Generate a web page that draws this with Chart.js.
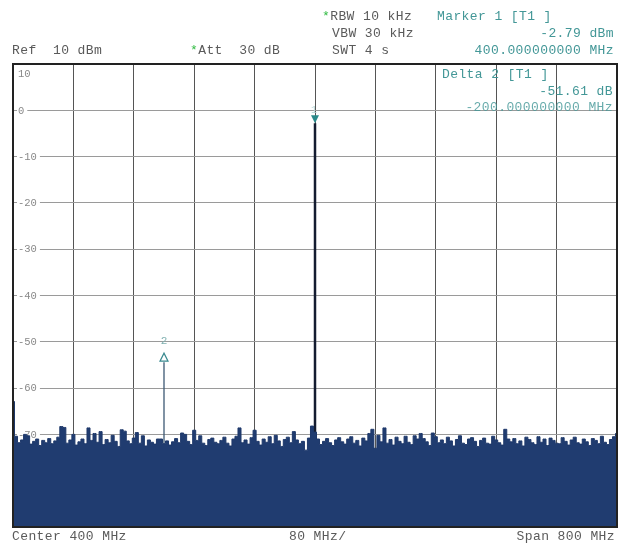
<!DOCTYPE html>
<html>
<head>
<meta charset="utf-8">
<script src="https://cdn.jsdelivr.net/npm/chart.js@4.4.1/dist/chart.umd.min.js"></script>
<style>
body { margin: 0; background: #fff; }
#wrap { position: relative; width: 622px; height: 546px; }
.t { position: absolute; font: 13px "Liberation Mono", monospace; letter-spacing: 0.4px; color: #5a5a5a; white-space: pre; line-height: 14px; }
.m { color: #439797; }
.s { color: #33bb44; }
</style>
</head>
<body>
<div id="wrap">
  <canvas id="myChart" width="622" height="546"></canvas>
  <div class="t" style="left:322px;top:10px"><span class="s">*</span>RBW 10 kHz</div>
  <div class="t m" style="left:437px;top:10px">Marker 1 [T1 ]</div>
  <div class="t" style="left:332px;top:27px">VBW 30 kHz</div>
  <div class="t m" style="right:8px;top:27px">-2.79 dBm</div>
  <div class="t" style="left:12px;top:44px">Ref  10 dBm</div>
  <div class="t" style="left:190px;top:44px"><span class="s">*</span>Att  30 dB</div>
  <div class="t" style="left:332px;top:44px">SWT 4 s</div>
  <div class="t m" style="right:8px;top:44px">400.000000000 MHz</div>
  <div class="t m" style="left:442px;top:68px">Delta 2 [T1 ]</div>
  <div class="t m" style="right:9px;top:85px">-51.61 dB</div>
  <div class="t m" style="right:9px;top:101px;opacity:0.8">-200.000000000 MHz</div>
  <div class="t" style="left:12px;top:530px">Center 400 MHz</div>
  <div class="t" style="left:289px;top:530px">80 MHz/</div>
  <div class="t" style="right:7px;top:530px">Span 800 MHz</div>
</div>
<script>
var startFreq = 0;
var stopFreq = 800;
var stepFreq = 4;
var refLevel = 10;
var bottomLevel = -90;

// trace level (dBm) every 4 MHz
var noiseLevels = [
  -62.9, -70.4, -71.8, -71.2, -70.0, -70.3, -72.1, -71.5, -71.0, -72.4,
  -71.3, -71.8, -70.9, -72.0, -71.4, -70.6, -68.3, -68.5, -71.9, -71.2,
  -70.0, -72.3, -71.6, -71.0, -72.0, -68.6, -71.3, -69.8, -71.7, -69.4,
  -72.2, -71.1, -71.8, -70.2, -71.5, -72.6, -69.0, -69.3, -71.4, -72.0,
  -70.8, -69.6, -71.9, -70.3, -72.5, -71.2, -71.7, -72.1, -71.0, -71.0,
  -72.0, -71.4, -72.3, -71.6, -70.9, -71.8, -69.7, -70.0, -71.5, -72.2,
  -69.1, -71.3, -70.3, -71.9, -72.4, -71.1, -70.8, -71.7, -72.0, -71.3,
  -70.6, -71.9, -72.5, -71.0, -70.4, -68.6, -71.8, -71.2, -72.1, -70.7,
  -69.1, -71.5, -72.3, -71.0, -71.7, -70.5, -72.0, -70.2, -71.4, -72.6,
  -71.1, -70.6, -71.8, -69.4, -71.2, -72.0, -71.5, -73.4, -70.8, -68.2,
  -69.5, -71.0, -72.2, -71.5, -70.9, -71.8, -72.4, -71.2, -70.7, -71.6,
  -72.1, -71.0, -70.5, -71.9, -71.3, -72.5, -70.8, -71.4, -69.8, -68.9,
  -73.0, -70.2, -71.6, -68.6, -71.9, -71.1, -72.3, -70.6, -71.5, -72.0,
  -70.4, -71.7, -72.2, -70.3, -71.0, -69.8, -70.9, -71.6, -72.4, -69.7,
  -70.5, -71.8, -71.2, -72.0, -70.6, -71.4, -72.5, -71.1, -70.3, -71.9,
  -72.2, -71.0, -70.7, -71.5, -72.6, -71.3, -70.8, -71.9, -72.1, -70.4,
  -71.2, -71.8, -72.3, -68.9, -71.0, -71.6, -70.9, -72.0, -71.4, -72.5,
  -70.6, -71.1, -71.8, -72.2, -70.5, -71.7, -71.0, -72.4, -70.8, -71.3,
  -71.9, -72.0, -70.7, -71.5, -72.3, -71.2, -70.6, -71.8, -72.1, -71.0,
  -71.6, -72.4, -70.9, -71.3, -72.0, -70.4, -71.7, -72.2, -71.1, -70.5,
  -69.8
];

var markerFreqs = [400, 200];
var markerLevels = [-2.79, -54.40];
var markerNames = ['1', '2'];

var yTickValues = [10, 0, -10, -20, -30, -40, -50, -60, -70];
var yTickLabels = ['10', '0', '-10', '-20', '-30', '-40', '-50', '-60', '-70'];

function levelAt(freq) {
  return noiseLevels[Math.round((freq - startFreq) / stepFreq)];
}

var trace = noiseLevels.map(function (v, i) {
  return { x: startFreq + i * stepFreq, y: v };
});

var analyzerPlugin = {
  id: 'analyzer',
  beforeDatasetsDraw: function (chart) {
    var ctx = chart.ctx;
    var y = chart.scales.y;
    var left = chart.chartArea.left;
    ctx.save();
    ctx.font = '10.5px "Liberation Mono", monospace';
    ctx.textBaseline = 'middle';
    for (var i = 0; i < yTickValues.length; i++) {
      var py = y.getPixelForValue(yTickValues[i]);
      if (i == 0) py += 10;
      var w = ctx.measureText(yTickLabels[i]).width;
      if (i > 0) {
        ctx.fillStyle = '#fff';
        ctx.fillRect(left + 4, py - 4, w + 4, 8);
      }
      ctx.fillStyle = '#888';
      ctx.fillText(yTickLabels[i], left + 5, py + 0.5);
    }
    ctx.restore();
  },
  afterDatasetsDraw: function (chart) {
    var ctx = chart.ctx;
    var a = chart.chartArea;
    var x = chart.scales.x;
    var y = chart.scales.y;
    ctx.save();
    // frame
    ctx.strokeStyle = '#222';
    ctx.lineWidth = 2;
    ctx.strokeRect(a.left, a.top, a.right - a.left, a.bottom - a.top);

    // marker 1: filled triangle pointing down onto the peak
    var px = x.getPixelForValue(markerFreqs[0]);
    var py = y.getPixelForValue(markerLevels[0]);
    ctx.fillStyle = '#2a8a8a';
    ctx.beginPath();
    ctx.moveTo(px - 4, py - 8);
    ctx.lineTo(px + 4, py - 8);
    ctx.lineTo(px, py);
    ctx.closePath();
    ctx.fill();
    ctx.font = '10px "Liberation Mono", monospace';
    ctx.textAlign = 'center';
    ctx.textBaseline = 'middle';
    ctx.fillStyle = '#b8d6d6';
    ctx.fillText(markerNames[0], px - 1, py - 13);

    // marker 2: open triangle pointing up
    px = x.getPixelForValue(markerFreqs[1]);
    py = y.getPixelForValue(markerLevels[1]);
    ctx.strokeStyle = '#3a8a90';
    ctx.lineWidth = 1.2;
    ctx.beginPath();
    ctx.moveTo(px - 4, py - 1);
    ctx.lineTo(px + 4, py - 1);
    ctx.lineTo(px, py - 9);
    ctx.closePath();
    ctx.stroke();
    ctx.fillStyle = '#7fb0b0';
    ctx.font = '11px "Liberation Mono", monospace';
    ctx.fillText(markerNames[1], px, py - 21);
    ctx.restore();
  }
};

function createChart() {
  var ctx = document.getElementById('myChart').getContext('2d');
  new Chart(ctx, {
    type: 'line',
    data: {
      datasets: [{
        data: trace,
        borderColor: 'rgb(30,56,106)',
        backgroundColor: 'rgb(32,60,112)',
        borderWidth: 1,
        pointRadius: 0,
        fill: 'start',
        stepped: 'middle'
      }, {
        data: [
          { x: markerFreqs[0], y: levelAt(markerFreqs[0]) },
          { x: markerFreqs[0], y: markerLevels[0] }
        ],
        borderColor: '#141c30',
        borderWidth: 2.5,
        pointRadius: 0,
        fill: false
      }, {
        data: [
          { x: markerFreqs[1], y: levelAt(markerFreqs[1]) },
          { x: markerFreqs[1], y: markerLevels[1] }
        ],
        borderColor: '#3d5874',
        borderWidth: 1.3,
        pointRadius: 0,
        fill: false
      }]
    },
    options: {
      responsive: false,
      devicePixelRatio: 1,
      animation: false,
      layout: { padding: { left: 13, right: 5, top: 64, bottom: 19 } },
      plugins: { legend: { display: false }, tooltip: { enabled: false } },
      scales: {
        x: {
          type: 'linear',
          min: startFreq,
          max: stopFreq,
          ticks: { display: false, stepSize: 80 },
          grid: { color: '#555', drawTicks: false, lineWidth: 1 },
          border: { display: false }
        },
        y: {
          min: bottomLevel,
          max: refLevel,
          ticks: { display: false, stepSize: 10 },
          grid: { color: '#9a9a9a', drawTicks: false, lineWidth: 1 },
          border: { display: false }
        }
      }
    },
    plugins: [analyzerPlugin]
  });
}
createChart();
</script>
</body>
</html>
